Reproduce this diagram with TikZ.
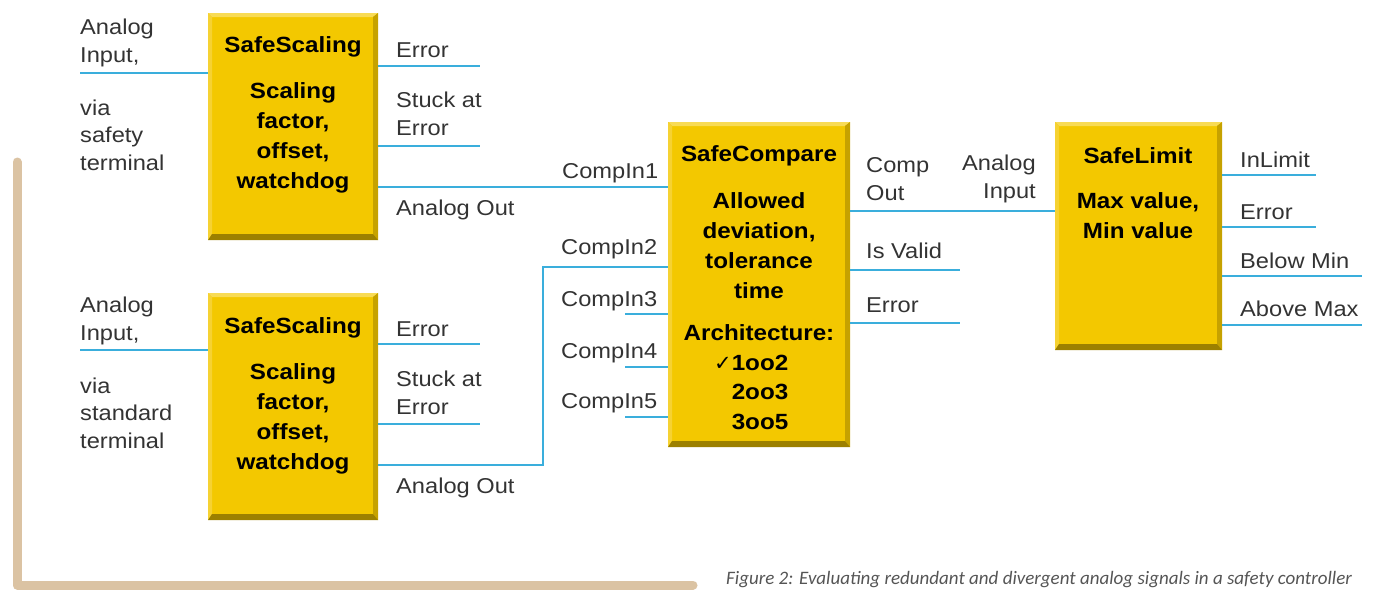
\documentclass[tikz,border=0pt]{standalone}
\usepackage{fontspec}
\setmainfont{Liberation Sans}[FakeStretch=1.1]
\newfontfamily\capfont{Carlito}
\newfontfamily\symfont{DejaVu Sans}
\definecolor{sigblue}{HTML}{3AAEDC}
\definecolor{boxyel}{HTML}{F3C800}
\definecolor{boxhi}{HTML}{F8DB55}
\definecolor{boxlt}{HTML}{F6D232}
\definecolor{boxrt}{HTML}{C6A200}
\definecolor{boxbt}{HTML}{9C8000}
\definecolor{tanbar}{HTML}{DBC3A3}
\definecolor{lbl}{HTML}{333333}
\definecolor{capgray}{HTML}{555555}
\tikzset{
  fbox/.style={rectangle, fill=boxyel, inner sep=0pt, outer sep=0pt},
  sig/.style={draw=sigblue, line width=2.4pt},
  lab/.style={anchor=west, inner sep=0pt, yshift=-3pt, text=lbl, font=\fontsize{21.5}{27.5}\selectfont, align=left},
  labr/.style={anchor=east, inner sep=0pt, yshift=-3pt, text=lbl, font=\fontsize{21.5}{27.5}\selectfont, align=right},
  btitle/.style={inner sep=0pt, yshift=-3pt, font=\fontsize{22}{30}\selectfont\bfseries, align=center},
  btext/.style={inner sep=0pt, yshift=-3pt, font=\fontsize{22}{30}\selectfont\bfseries, align=center},
}
\newcommand\bevelbox[1]{%
  \fill[boxhi] (#1.north west) -- (#1.north east) -- ([shift={(-5,4)}]#1.north east) -- ([shift={(4,4)}]#1.north west) -- cycle;
  \fill[boxlt] (#1.north west) -- (#1.south west) -- ([shift={(4,-6)}]#1.south west) -- ([shift={(4,4)}]#1.north west) -- cycle;
  \fill[boxrt] (#1.north east) -- (#1.south east) -- ([shift={(-5,-6)}]#1.south east) -- ([shift={(-5,4)}]#1.north east) -- cycle;
  \fill[boxbt] (#1.south west) -- (#1.south east) -- ([shift={(-5,-6)}]#1.south east) -- ([shift={(4,-6)}]#1.south west) -- cycle;
}
\begin{document}
\begin{tikzpicture}[x=1pt,y=-1pt]
\useasboundingbox (0,0) rectangle (1373,590);
% tan bracket
\draw[tanbar, line width=9pt, line cap=round, line join=round] (17,162) -- (17,585) -- (693,585);

% boxes
\node[fbox, minimum width=170pt, minimum height=227pt] (s1) at (293,126.5) {};
\node[fbox, minimum width=170pt, minimum height=227pt] (s2) at (293,406.5) {};
\node[fbox, minimum width=182pt, minimum height=325pt] (cmp) at (759,284.5) {};
\node[fbox, minimum width=167pt, minimum height=228pt] (lim) at (1138.5,236) {};
\bevelbox{s1}\bevelbox{s2}\bevelbox{cmp}\bevelbox{lim}

% box texts
\node[btitle] (s1t) at (293,44) {SafeScaling};
\node[btext] (s1b) at (293,135) {Scaling\\factor,\\offset,\\watchdog};
\node[btitle] (s2t) at (293,325) {SafeScaling};
\node[btext] (s2b) at (293,416) {Scaling\\factor,\\offset,\\watchdog};
\node[btitle] (cmpt) at (759,153) {SafeCompare};
\node[btext] (cmpb) at (759,243) {Allowed\\deviation,\\tolerance\\time};
\node[btext] (cmpa) at (759,330) {Architecture:};
\node[btext, font=\fontsize{22}{29.5}\selectfont\bfseries] (cmpn) at (760,389) {\llap{\symfont\fontsize{21}{20}\selectfont ✓}1oo2\\2oo3\\3oo5};
\node[btitle] (limt) at (1138,153) {SafeLimit};
\node[btext] (limb) at (1138,213) {Max value,\\Min value};

% coordinates for free ends
\coordinate (i1) at (80,73);
\coordinate (i2) at (80,350);
\coordinate (e1) at (480,66);
\coordinate (k1) at (480,146);
\coordinate (e2) at (480,344);
\coordinate (k2) at (480,424);
\coordinate (a1) at (600,187);
\coordinate (j1) at (543,465);
\coordinate (j2) at (543,267);
\coordinate (c3) at (625,314);
\coordinate (c4) at (625,367);
\coordinate (c5) at (625,417);
\coordinate (co) at (950,211);
\coordinate (iv) at (960,270);
\coordinate (ce) at (960,323);
\coordinate (o1) at (1316,175);
\coordinate (o2) at (1316,227);
\coordinate (o3) at (1362,276);
\coordinate (o4) at (1362,325);

% connectors
\draw[sig] (i1) -- (i1 -| s1.west);
\draw[sig] (i2) -- (i2 -| s2.west);
\draw[sig] (e1 -| s1.east) -- (e1);
\draw[sig] (k1 -| s1.east) -- (k1);
\draw[sig] (e2 -| s2.east) -- (e2);
\draw[sig] (k2 -| s2.east) -- (k2);
\draw[sig] (a1 -| s1.east) -- (a1 -| cmp.west);
\draw[sig] (j1 -| s2.east) -- (j1) -- (j2) -- (j2 -| cmp.west);
\draw[sig] (c3) -- (c3 -| cmp.west);
\draw[sig] (c4) -- (c4 -| cmp.west);
\draw[sig] (c5) -- (c5 -| cmp.west);
\draw[sig] (co -| cmp.east) -- (co -| lim.west);
\draw[sig] (iv -| cmp.east) -- (iv);
\draw[sig] (ce -| cmp.east) -- (ce);
\draw[sig] (o1 -| lim.east) -- (o1);
\draw[sig] (o2 -| lim.east) -- (o2);
\draw[sig] (o3 -| lim.east) -- (o3);
\draw[sig] (o4 -| lim.east) -- (o4);

% labels
\node[lab] (l1) at (80,40) {Analog\\Input,};
\node[lab] (l2) at (80,132) {via\\safety\\terminal};
\node[lab] (l3) at (396,47) {Error};
\node[lab] (l4) at (396,111) {Stuck at\\Error};
\node[lab] (l5) at (396,207) {Analog Out};
\node[lab] (m1) at (80,318) {Analog\\Input,};
\node[lab] (m2) at (80,410) {via\\standard\\terminal};
\node[lab] (m3) at (396,326) {Error};
\node[lab] (m4) at (396,390) {Stuck at\\Error};
\node[lab] (m5) at (396,485) {Analog Out};
\node[lab] (n1) at (562,170) {CompIn1};
\node[lab] (n2) at (561,246) {CompIn2};
\node[lab] (n3) at (561,298) {CompIn3};
\node[lab] (n4) at (561,350) {CompIn4};
\node[lab] (n5) at (561,400) {CompIn5};
\node[lab] (p1) at (866,176) {Comp\\Out};
\node[labr] (p2) at (1036,176) {Analog\\Input};
\node[lab] (p3) at (866,248) {Is Valid};
\node[lab] (p4) at (866,302) {Error};
\node[lab] (q1) at (1240,157) {InLimit};
\node[lab] (q2) at (1240,209) {Error};
\node[lab] (q3) at (1240,258) {Below Min};
\node[lab] (q4) at (1240,306) {Above Max};

% caption
\node[anchor=base west, inner sep=0pt, text=capgray, font=\capfont\itshape\fontsize{19}{20}\selectfont] (cap) at (726,584) {Figure 2: Evaluating redundant and divergent analog signals in a safety controller};
\end{tikzpicture}
\end{document}
